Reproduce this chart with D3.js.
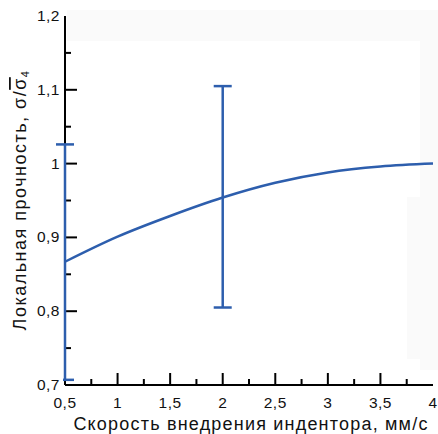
<!DOCTYPE html>
<html>
<head>
<meta charset="utf-8">
<script src="https://cdn.jsdelivr.net/npm/d3@7"></script>
<style>
  body { margin: 0; background: #fff; }
  text { font-family: "Liberation Sans", Arial, sans-serif; fill: #111; }
</style>
</head>
<body>
<script>
// speed of indentation vs local strength
var speed = [0.5, 1, 1.5, 2, 2.5, 3, 3.5, 4];
var strength = [0.867, 0.901, 0.929, 0.954, 0.974, 0.988, 0.996, 1.0];

// error bars
var errX = [0.5, 2];
var errLow = [0.707, 0.805];
var errHigh = [1.026, 1.105];

var xTicks = [0.5, 1, 1.5, 2, 2.5, 3, 3.5, 4];
var yTicks = [0.7, 0.8, 0.9, 1, 1.1, 1.2];

var width = 438;
var height = 434;
var blue = '#2d5ead';

var svg = d3.select('body').append('svg')
  .attr('width', width)
  .attr('height', height);

// faint background patches seen in the scan
svg.append('rect').attr('x', 67).attr('y', 10).attr('width', 371).attr('height', 31).attr('fill', '#fafafa');
svg.append('rect').attr('x', 420).attr('y', 10).attr('width', 18).attr('height', 360).attr('fill', '#fafafa');
svg.append('rect').attr('x', 407).attr('y', 197).attr('width', 31).attr('height', 162).attr('fill', '#fafafa');

var x = d3.scaleLinear().domain([0.5, 4]).range([65, 433]);
var y = d3.scaleLinear().domain([0.7, 1.2]).range([385, 16]);

var fmt = function(d) { return String(d).replace('.', ','); };

// y axis
svg.append('line')
  .attr('x1', x(0.5)).attr('x2', x(0.5))
  .attr('y1', y(1.2)).attr('y2', y(0.7))
  .attr('stroke', '#000').attr('stroke-width', 2);

var yMinor = d3.range(0.75, 1.2, 0.1);
svg.selectAll('.ymin').data(yMinor).enter().append('line')
  .attr('x1', x(0.5)).attr('x2', x(0.5) + 6)
  .attr('y1', function(d) { return y(d); }).attr('y2', function(d) { return y(d); })
  .attr('stroke', '#000').attr('stroke-width', 2);

svg.selectAll('.ymaj').data(yTicks.slice(1, 5)).enter().append('line')
  .attr('x1', x(0.5)).attr('x2', x(0.5) + 12)
  .attr('y1', function(d) { return y(d); }).attr('y2', function(d) { return y(d); })
  .attr('stroke', '#000').attr('stroke-width', 2);

svg.selectAll('.ylab').data(yTicks).enter().append('text')
  .attr('x', 60)
  .attr('y', function(d) { return y(d) + 5; })
  .attr('text-anchor', 'end')
  .attr('font-size', 15.5)
  .attr('letter-spacing', 0.5)
  .text(fmt);

// x axis
svg.append('line')
  .attr('x1', x(0.5)).attr('x2', x(4))
  .attr('y1', y(0.7)).attr('y2', y(0.7))
  .attr('stroke', '#000').attr('stroke-width', 2);

var xMinor = d3.range(0.75, 4, 0.5);
svg.selectAll('.xmin').data(xMinor).enter().append('line')
  .attr('x1', function(d) { return x(d); }).attr('x2', function(d) { return x(d); })
  .attr('y1', y(0.7)).attr('y2', y(0.7) - 6)
  .attr('stroke', '#000').attr('stroke-width', 2);

svg.selectAll('.xmaj').data(xTicks.slice(1, 7)).enter().append('line')
  .attr('x1', function(d) { return x(d); }).attr('x2', function(d) { return x(d); })
  .attr('y1', y(0.7)).attr('y2', y(0.7) - 12)
  .attr('stroke', '#000').attr('stroke-width', 2);

svg.selectAll('.xlab').data(xTicks).enter().append('text')
  .attr('x', function(d) { return x(d); })
  .attr('y', 408)
  .attr('text-anchor', 'middle')
  .attr('font-size', 15.5)
  .attr('letter-spacing', 0.5)
  .text(fmt);

// axis titles
svg.append('text')
  .attr('x', 251).attr('y', 430)
  .attr('text-anchor', 'middle')
  .attr('font-size', 18)
  .attr('letter-spacing', 1.2)
  .text('Скорость внедрения индентора, мм/с');

var yt = svg.append('text')
  .attr('transform', 'translate(26,' + 200 + ') rotate(-90)')
  .attr('text-anchor', 'middle')
  .attr('font-size', 18)
  .attr('letter-spacing', 1.5);
yt.append('tspan').text('Локальная прочность, σ/');
yt.append('tspan').attr('text-decoration', 'overline').text('σ');
yt.append('tspan').attr('font-size', 11).attr('dy', 3).text('4');

// error bars
errX.forEach(function(v, i) {
  svg.append('line')
    .attr('x1', x(v)).attr('x2', x(v))
    .attr('y1', y(errHigh[i])).attr('y2', y(errLow[i]))
    .attr('stroke', blue).attr('stroke-width', 2.5);
  svg.append('line')
    .attr('x1', x(v) - 9).attr('x2', x(v) + 9)
    .attr('y1', y(errHigh[i])).attr('y2', y(errHigh[i]))
    .attr('stroke', blue).attr('stroke-width', 2.5);
  svg.append('line')
    .attr('x1', i === 0 ? x(v) - 2 : x(v) - 9).attr('x2', x(v) + 9)
    .attr('y1', y(errLow[i])).attr('y2', y(errLow[i]))
    .attr('stroke', blue).attr('stroke-width', 2.5);
});

// curve
var line = d3.line()
  .x(function(d, i) { return x(speed[i]); })
  .y(function(d) { return y(d); })
  .curve(d3.curveMonotoneX);

svg.append('path')
  .datum(strength)
  .attr('d', line)
  .attr('fill', 'none')
  .attr('stroke', blue)
  .attr('stroke-width', 2.5);
</script>
</body>
</html>
